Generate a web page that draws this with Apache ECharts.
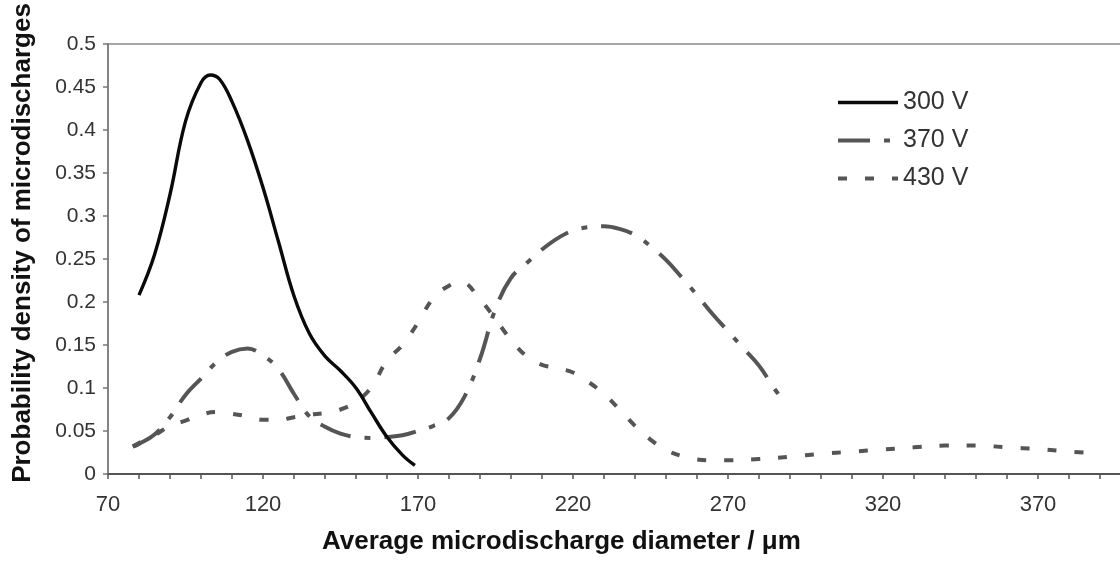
<!DOCTYPE html>
<html>
<head>
<meta charset="utf-8">
<script src="https://cdn.jsdelivr.net/npm/echarts@6/dist/echarts.min.js"></script>
<style>
  html, body { margin: 0; padding: 0; background: #fff; overflow: hidden; width: 1120px; height: 564px; }
  #chart { width: 1140px; height: 564px; }
</style>
</head>
<body>
<div id="chart"></div>
<script>
// Probability density of microdischarge diameter at three applied voltages
const seriesNames = ['300 V', '370 V', '430 V'];

// [diameter (µm), probability density]
const v300 = [
  [80, 0.208], [85, 0.255], [90, 0.325], [95, 0.41], [100, 0.455], [103, 0.464],
  [106, 0.459], [110, 0.433], [115, 0.388], [120, 0.333], [125, 0.270], [130, 0.207],
  [135, 0.163], [140, 0.137], [145, 0.120], [150, 0.100], [155, 0.071], [160, 0.043],
  [165, 0.022], [169, 0.010]
];

const v370 = [
  [78, 0.032], [80, 0.035], [85, 0.046], [90, 0.066], [95, 0.092], [100, 0.111],
  [105, 0.130], [110, 0.142], [115, 0.146], [120, 0.138], [125, 0.122], [130, 0.093],
  [135, 0.067], [140, 0.055], [145, 0.047], [150, 0.043], [155, 0.042], [160, 0.043],
  [165, 0.045], [170, 0.050], [175, 0.056], [180, 0.065], [185, 0.090], [190, 0.134],
  [195, 0.192], [200, 0.228], [205, 0.245], [210, 0.261], [215, 0.274], [220, 0.283],
  [225, 0.287], [230, 0.288], [235, 0.285], [240, 0.278], [245, 0.265], [250, 0.249],
  [255, 0.229], [260, 0.208], [265, 0.186], [270, 0.166], [275, 0.146], [280, 0.126],
  [285, 0.099], [288, 0.085]
];

const v430 = [
  [78, 0.032], [80, 0.036], [85, 0.045], [90, 0.056], [95, 0.062], [100, 0.069],
  [105, 0.072], [110, 0.070], [115, 0.067], [120, 0.063], [125, 0.063], [130, 0.066],
  [135, 0.069], [140, 0.071], [145, 0.075], [150, 0.084], [155, 0.101], [160, 0.132],
  [165, 0.150], [170, 0.176], [175, 0.205], [180, 0.219], [184, 0.223], [190, 0.203],
  [195, 0.180], [200, 0.156], [205, 0.137], [210, 0.127], [215, 0.123], [220, 0.118],
  [225, 0.107], [230, 0.093], [235, 0.075], [240, 0.056], [245, 0.040], [250, 0.028],
  [255, 0.021], [260, 0.017], [265, 0.016], [270, 0.016], [280, 0.0175], [290, 0.020],
  [300, 0.0235], [310, 0.026], [320, 0.0285], [330, 0.031], [340, 0.033], [350, 0.033],
  [360, 0.031], [370, 0.029], [380, 0.026], [385, 0.025]
];

const xTickLabels = [70, 120, 170, 220, 270, 320, 370];
const xTitle = 'Average microdischarge diameter / \u03bcm';
const yTitle = 'Probability density of microdischarges';

const font = '"Liberation Sans", Arial, sans-serif';
const chart = echarts.init(document.getElementById('chart'));

const styles = {
  '300 V': { color: '#0a0a0a', width: 3.4, type: 'solid' },
  '370 V': { color: '#555555', width: 4, type: [32, 14, 6, 14] },
  '430 V': { color: '#555555', width: 4, type: [9, 18] }
};

chart.setOption({
  backgroundColor: '#ffffff',
  animation: false,
  grid: {
    left: 108, top: 44, bottom: 90, right: 9,
    show: true, borderColor: '#8a8a8a', borderWidth: 1.5
  },
  legend: {
    orient: 'vertical',
    left: 836, top: 90, padding: 0,
    itemWidth: 60, itemHeight: 24, itemGap: 13,
    itemStyle: { opacity: 0 },
    textStyle: { fontFamily: font, fontSize: 25, color: '#333', lineHeight: 24 },
    data: seriesNames.map(n => ({ name: n, lineStyle: styles[n] }))
  },
  xAxis: {
    type: 'value',
    min: 70, max: 400, interval: 10,
    axisLine: { lineStyle: { color: '#555', width: 2 } },
    axisTick: { show: true, inside: false, length: 5, lineStyle: { color: '#555', width: 1.5 } },
    axisLabel: {
      margin: 20, fontFamily: font, fontSize: 22, color: '#333',
      formatter: v => (xTickLabels.indexOf(v) >= 0 ? String(v) : '')
    },
    splitLine: { show: false }
  },
  yAxis: {
    type: 'value',
    min: 0, max: 0.5, interval: 0.05,
    axisLine: { show: true, lineStyle: { color: '#777', width: 1.5 } },
    axisTick: { show: true, inside: false, length: 5, lineStyle: { color: '#777', width: 1.5 } },
    axisLabel: {
      margin: 12, fontFamily: font, fontSize: 21, color: '#333',
      formatter: v => String(+v.toFixed(2))
    },
    splitLine: { show: false }
  },
  graphic: [
    {
      type: 'text', left: 322, top: 529,
      style: { text: xTitle, font: 'bold 26px ' + font, fill: '#111' }
    },
    {
      type: 'text', x: 23, y: 243, rotation: Math.PI / 2,
      style: { text: yTitle, font: 'bold 26px ' + font, fill: '#111', align: 'center', verticalAlign: 'middle' }
    }
  ],
  series: [
    {
      name: seriesNames[0], type: 'line', data: v300, smooth: 0.4,
      symbol: 'none', z: 3,
      lineStyle: styles['300 V'],
      itemStyle: { color: styles['300 V'].color }
    },
    {
      name: seriesNames[1], type: 'line', data: v370, smooth: 0.4,
      symbol: 'none', z: 2,
      lineStyle: styles['370 V'],
      itemStyle: { color: styles['370 V'].color }
    },
    {
      name: seriesNames[2], type: 'line', data: v430, smooth: 0.4,
      symbol: 'none', z: 2,
      lineStyle: styles['430 V'],
      itemStyle: { color: styles['430 V'].color }
    }
  ]
});
</script>
</body>
</html>
